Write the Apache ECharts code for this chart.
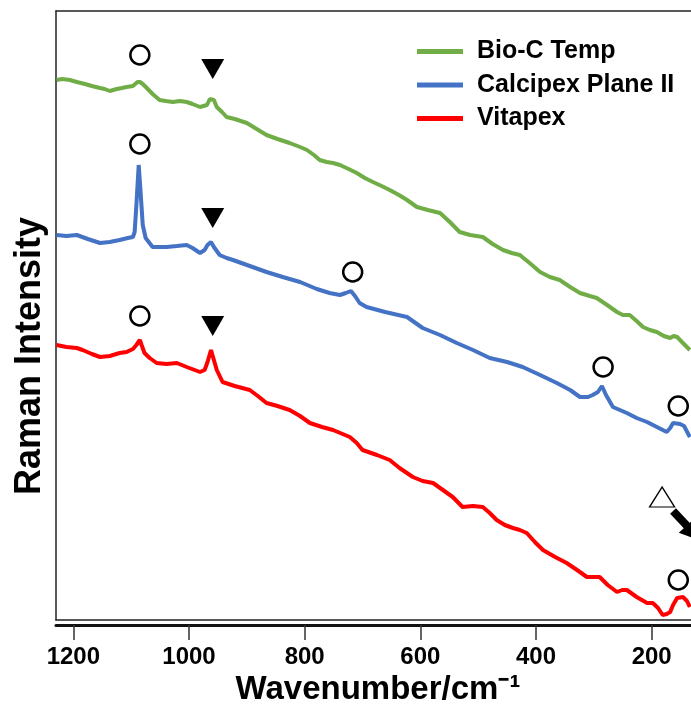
<!DOCTYPE html>
<html>
<head>
<meta charset="utf-8">
<script src="https://cdn.jsdelivr.net/npm/echarts@6/dist/echarts.min.js"></script>
<style>html,body{margin:0;padding:0;background:#fff}#c{width:691px;height:709px}</style>
</head>
<body>
<div id="c"></div>
<script>
// ---- data (wavenumber in cm-1, intensity in arbitrary units) ----
const seriesNames = ['Bio-C Temp', 'Calcipex Plane II', 'Vitapex'];
const bioWave = [1229,1219,1206,1194,1180,1168,1154,1146,1137,1125,1116,1108,1097,1089,1085,1080,1073,1063,1051,1040,1028,1016,1004,994,981,975,969,964,961,957,952,943,935,921,900,883,866,847,826,808,796,784,774,762,751,739,724,710,696,682,667,653,637,623,606,587,566,549,532,514,492,475,457,442,428,411,393,376,359,341,324,307,295,277,260,250,238,226,215,203,191,179,168,162,156,146,134];
const bioInt  = [540,541,540,538,536,534,532,531,529,531,532,533,534,538,538,536,532,526,520,519,518,519,518,516,513,514,515,521,523,520,513,508,503,501,497,491,485,481,477,473,470,465,460,458,457,455,451,447,442,438,434,430,425,420,413,410,407,398,388,385,383,376,370,367,365,357,348,343,340,333,327,324,322,315,308,305,305,299,293,290,288,284,282,284,283,277,270];
const calWave = [1229,1212,1194,1175,1154,1137,1120,1106,1097,1094,1091,1087,1084,1080,1075,1063,1051,1039,1021,1004,994,981,973,968,962,957,947,935,924,895,866,838,808,779,757,739,729,720,713,705,693,661,623,596,566,537,509,480,450,423,393,364,341,324,310,302,293,286,279,267,255,243,226,208,191,174,168,163,151,144,134];
const calInt  = [385,384,385,381,377,378,380,382,383,388,415,455,430,395,382,373,373,373,374,375,372,367,370,375,378,373,365,362,360,354,348,343,338,331,327,325,327,329,324,317,313,308,303,292,285,277,270,262,258,253,245,237,230,223,223,225,228,234,225,213,210,207,202,198,193,188,192,197,196,194,183];
const vitWave = [1229,1212,1194,1184,1168,1154,1137,1120,1108,1097,1091,1085,1082,1077,1068,1056,1039,1021,1004,981,973,968,962,957,952,942,921,895,881,866,847,826,808,791,770,751,722,710,700,675,653,636,613,596,578,561,544,527,509,492,480,468,454,440,428,416,402,388,367,347,329,312,302,290,276,260,251,243,226,208,198,189,181,174,168,163,156,146,139,134];
const vitInt  = [275,273,272,270,266,263,264,267,268,271,275,280,275,267,262,257,256,257,253,248,250,258,270,260,250,238,234,230,224,217,214,210,204,197,193,190,183,177,170,165,160,152,143,139,137,130,123,113,114,113,107,100,95,92,90,87,78,70,63,57,50,43,43,43,35,28,30,30,23,17,17,12,5,6,8,15,22,23,19,13];
const xTicks = [200,400,600,800,1000,1200];
// annotation marks (data coordinates)
const circleMarks = [[1085,565],[1085,476],[1085,304],[717,348],[284,253],[154,214],[154,40]];
const filledTriMarks = [[959,551],[959,402],[959,294]];
const openTriMarks = [[182,123]];
const arrowShaft = [[163,109],[116,80]];
const arrowHead = [125,87];

const colors = ['#70AD47', '#4472C4', '#FF0000'];
const FONT = 'Liberation Sans, Arial, sans-serif';
const X_MIN = 132, X_MAX = 1230;
const zip = (a, b) => a.map((v, i) => [v, b[i]]);
const frameAxis = (pos, offset, width) => ({
  type: 'value', inverse: true, min: X_MIN, max: X_MAX, position: pos, offset: offset,
  splitLine: {show: false}, axisTick: {show: false}, axisLabel: {show: false},
  axisLine: {show: true, onZero: false, lineStyle: {color: '#222', width: width}}
});

const chart = echarts.init(document.getElementById('c'), null, {renderer: 'canvas'});
chart.setOption({
  animation: false,
  backgroundColor: '#fff',
  grid: {left: 56, top: 11, bottom: 89, right: 0, show: false},
  legend: {
    orient: 'vertical', left: 417, top: 39, padding: 0, itemGap: 8.5,
    itemWidth: 46, itemHeight: 5, icon: 'rect',
    textStyle: {fontFamily: FONT, fontWeight: 'bold', fontSize: 25, lineHeight: 25, color: '#000', padding: [0,0,0,9]},
    data: seriesNames
  },
  xAxis: [
    {
      type: 'value', inverse: true, min: X_MIN, max: X_MAX, position: 'bottom', offset: 5,
      splitLine: {show: false},
      axisLine: {show: true, onZero: false, lineStyle: {color: '#111', width: 3}},
      axisTick: {show: true, length: 15, customValues: xTicks, lineStyle: {color: '#333', width: 1.5}},
      axisLabel: {customValues: xTicks, margin: 20, formatter: v => String(v), fontFamily: FONT, fontWeight: 'bold', fontSize: 24, color: '#000'}
    },
    frameAxis('top', 0, 1.5),
    frameAxis('bottom', 0, 1.5)
  ],
  yAxis: {
    type: 'value', min: 0, max: 609, position: 'left',
    splitLine: {show: false}, axisTick: {show: false}, axisLabel: {show: false},
    axisLine: {show: true, onZero: false, lineStyle: {color: '#222', width: 1.5}}
  },
  graphic: [
    {type: 'text', x: 378, y: 690, style: {text: 'Wavenumber/cm⁻¹', fontFamily: FONT, fontWeight: 'bold', fontSize: 33, fill: '#000', align: 'center', verticalAlign: 'middle'}},
    {type: 'text', x: 30, y: 356, rotation: Math.PI / 2, style: {text: 'Raman Intensity', fontFamily: FONT, fontWeight: 'bold', fontSize: 36, fill: '#000', align: 'center', verticalAlign: 'middle'}}
  ],
  series: [
    {name: seriesNames[0], type: 'line', data: zip(bioWave, bioInt), showSymbol: false, symbol: 'none', lineStyle: {color: colors[0], width: 4}, itemStyle: {color: colors[0]}, z: 3},
    {name: seriesNames[1], type: 'line', data: zip(calWave, calInt), showSymbol: false, symbol: 'none', lineStyle: {color: colors[1], width: 4}, itemStyle: {color: colors[1]}, z: 3},
    {name: seriesNames[2], type: 'line', data: zip(vitWave, vitInt), showSymbol: false, symbol: 'none', lineStyle: {color: colors[2], width: 4}, itemStyle: {color: colors[2]}, z: 3},
    {type: 'scatter', data: circleMarks, symbol: 'circle', symbolSize: 19, itemStyle: {color: '#fff', borderColor: '#000', borderWidth: 2.5, opacity: 1}, z: 5, silent: true},
    {type: 'scatter', data: filledTriMarks, symbol: 'triangle', symbolRotate: 180, symbolSize: [23, 20], itemStyle: {color: '#000', opacity: 1}, z: 5, silent: true},
    {type: 'scatter', data: openTriMarks, symbol: 'triangle', symbolSize: [25, 20], itemStyle: {color: '#fff', borderColor: '#000', borderWidth: 1.3, opacity: 1}, z: 5, silent: true},
    {type: 'line', data: arrowShaft, symbol: 'none', clip: false, lineStyle: {color: '#000', width: 8}, z: 5, silent: true},
    {type: 'scatter', data: [arrowHead], symbol: 'triangle', symbolRotate: -138, symbolSize: [24, 22], clip: false, itemStyle: {color: '#000', opacity: 1}, z: 5, silent: true}
  ]
});
</script>
</body>
</html>
